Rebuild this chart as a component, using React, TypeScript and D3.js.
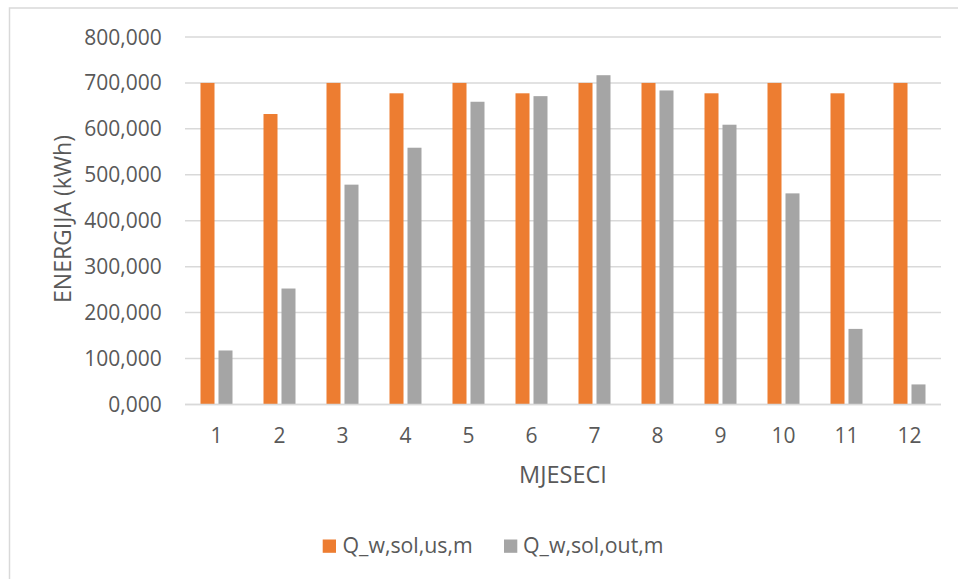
import React from "react";
import * as d3 from "d3";

const months = ["1", "2", "3", "4", "5", "6", "7", "8", "9", "10", "11", "12"];
const seriesNames = ["Q_w,sol,us,m", "Q_w,sol,out,m"];
const qUs = [700, 632.3, 700, 677.4, 700, 677.4, 700, 700, 677.4, 700, 677.4, 700];
const qOut = [117.4, 252.3, 478.5, 558.9, 659.0, 671.2, 716.8, 683.6, 609.0, 459.5, 164.4, 43.5];
const yTicks = [0, 100, 200, 300, 400, 500, 600, 700, 800];
const colors = ["#ED7D31", "#A5A5A5"];
const yTitle = "ENERGIJA (kWh)";
const xTitle = "MJESECI";

const W = 958;
const H = 579;
const FONT = "'Open Sans', 'Noto Sans', sans-serif";
const TEXT = "#595959";
const GRID = "#D9D9D9";

const fmt = (v: number) => d3.format(".3f")(v).replace(".", ",");

export default function App() {
  const plotLeft = 185;
  const plotRight = 941;
  const plotTop = 37;
  const plotBottom = 404.4;

  const x0 = d3.scaleBand<string>().domain(months).range([plotLeft, plotRight]).padding(0);
  const groupW = 32;
  const off = (x0.bandwidth() - groupW) / 2;
  const x1 = d3
    .scaleBand<string>()
    .domain(seriesNames)
    .range([off, off + groupW])
    .paddingInner(0.222)
    .paddingOuter(0);
  const y = d3.scaleLinear().domain([0, 800]).range([plotBottom, plotTop]);

  const series = [qUs, qOut];

  const legendItems = [
    { name: seriesNames[0], color: colors[0], sx: 322.7, tx: 342.5 },
    { name: seriesNames[1], color: colors[1], sx: 504, tx: 523 },
  ];

  return (
    <div style={{ position: "absolute", left: 0, top: 0 }}>
      <svg width={W} height={H} style={{ display: "block", background: "#fff" }} fontFamily={FONT}>
        <rect x={9.5} y={8} width={W + 50} height={H + 50} fill="#fff" stroke={GRID} strokeWidth={1.5} />
        {yTicks.map((t) => (
          <g key={t}>
            <line x1={plotLeft} x2={plotRight} y1={y(t)} y2={y(t)} stroke={GRID} strokeWidth={1.5} />
            <text x={161.7} y={y(t)} dy="0.36em" textAnchor="end" fontSize={21} fill={TEXT}>
              {fmt(t)}
            </text>
          </g>
        ))}
        {months.map((m, i) => (
          <g key={m} transform={`translate(${x0(m)},0)`}>
            {series.map((s, j) => (
              <rect
                key={j}
                x={x1(seriesNames[j])}
                y={y(s[i])}
                width={x1.bandwidth()}
                height={y(0) - y(s[i])}
                fill={colors[j]}
              />
            ))}
            <text x={x0.bandwidth() / 2} y={443} textAnchor="middle" fontSize={21} fill={TEXT}>
              {m}
            </text>
          </g>
        ))}
        <line x1={plotLeft} x2={plotRight} y1={y(0)} y2={y(0)} stroke={GRID} strokeWidth={1.5} />
        <text x={(plotLeft + plotRight) / 2} y={483} textAnchor="middle" fontSize={23.5} fill={TEXT}>
          {xTitle}
        </text>
        <text
          transform={`translate(71,219) rotate(-90)`}
          textAnchor="middle"
          fontSize={23}
          fill={TEXT}
        >
          {yTitle}
        </text>
        {legendItems.map((l) => (
          <g key={l.name}>
            <rect x={l.sx} y={539.5} width={13.3} height={13.3} fill={l.color} />
            <text x={l.tx} y={553} fontSize={21.3} fill={TEXT}>
              {l.name}
            </text>
          </g>
        ))}
      </svg>
    </div>
  );
}
